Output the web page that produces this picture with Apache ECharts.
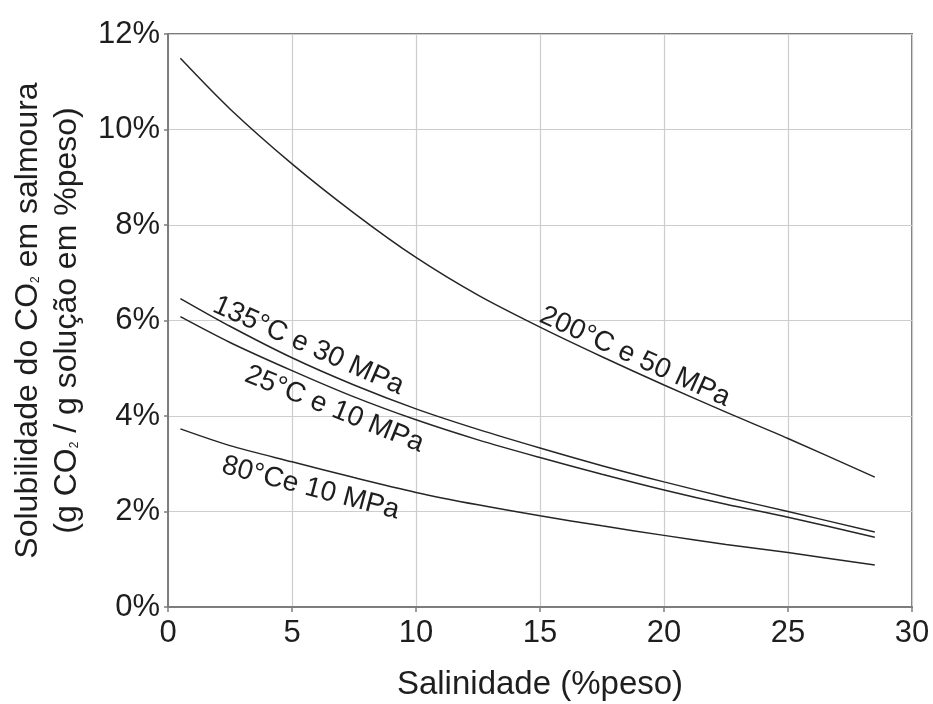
<!DOCTYPE html>
<html>
<head>
<meta charset="utf-8">
<title>Solubilidade do CO2 em salmoura</title>
<script src="https://cdn.jsdelivr.net/npm/echarts@6/dist/echarts.min.js"></script>
<style>
  html, body { margin: 0; padding: 0; background: #ffffff; }
  #chart { width: 933px; height: 704px; }
</style>
</head>
<body>
<div id="chart"></div>
<script>
// Salinity (% by weight) at which each curve is sampled
const salinity = [0.5, 2.5, 5, 7.5, 10, 12.5, 15, 17.5, 20, 22.5, 25, 28.5];

// CO2 solubility in brine (g CO2 / g solution, in % by weight)
const sol200C50MPa = [11.49, 10.43, 9.28, 8.25, 7.32, 6.53, 5.86, 5.24, 4.65, 4.08, 3.53, 2.72];
const sol135C30MPa = [6.46, 5.88, 5.22, 4.65, 4.15, 3.72, 3.33, 2.96, 2.62, 2.30, 2.00, 1.57];
const sol25C10MPa  = [6.08, 5.54, 4.95, 4.40, 3.92, 3.50, 3.13, 2.78, 2.45, 2.15, 1.88, 1.46];
const sol80C10MPa  = [3.73, 3.38, 3.04, 2.71, 2.40, 2.14, 1.91, 1.70, 1.50, 1.31, 1.14, 0.88];

// Curve captions
const curveNames = ['200°C e 50 MPa', '135°C e 30 MPa', '25°C e 10 MPa', '80°Ce 10 MPa'];

// Axis ticks
const xTicks = [0, 5, 10, 15, 20, 25, 30];
const yTicks = [0, 2, 4, 6, 8, 10, 12];

const FONT = '"Liberation Sans", Arial, Helvetica, sans-serif';
const INK = '#1e1e1e';
const FRAME = '#7d7d7d';
const GRIDC = '#cdcdcd';

// Caption placement along each curve: data coordinate of the caption centre and its tilt
const captionPlacement = [
  { coord: [18.83, 5.24], rotate: -24.4 },
  { coord: [5.66, 5.47], rotate: -24 },
  { coord: [6.71, 4.14], rotate: -22 },
  { coord: [5.75, 2.49], rotate: -14.7 }
];

function pairs(ys) {
  return salinity.map((x, i) => [x, ys[i]]);
}

function curve(name, ys, placement) {
  return {
    name: name,
    type: 'line',
    data: pairs(ys),
    smooth: 0.3,
    showSymbol: false,
    symbol: 'none',
    silent: true,
    lineStyle: { color: '#262626', width: 1.5 },
    markPoint: {
      symbol: 'circle',
      symbolSize: 0,
      silent: true,
      data: [{ coord: placement.coord, value: name }],
      label: {
        show: true,
        position: 'inside',
        formatter: name,
        rotate: placement.rotate,
        fontFamily: FONT,
        fontSize: 28,
        color: INK
      }
    }
  };
}

const chart = echarts.init(document.getElementById('chart'), null, { renderer: 'canvas' });

const option = {
  animation: false,
  backgroundColor: '#ffffff',
  grid: {
    left: 168, right: 21, top: 34, bottom: 97,
    containLabel: false,
    outerBoundsMode: 'none',
    show: true,
    borderColor: FRAME,
    borderWidth: 2,
    backgroundColor: 'transparent'
  },
  xAxis: {
    type: 'value',
    min: xTicks[0],
    max: xTicks[xTicks.length - 1],
    interval: xTicks[1] - xTicks[0],
    name: 'Salinidade (%peso)',
    nameLocation: 'middle',
    nameGap: 61,
    nameTextStyle: { fontFamily: FONT, fontSize: 33, color: INK },
    axisLine: { show: true, lineStyle: { color: FRAME, width: 2 } },
    axisTick: { show: true, length: 5, lineStyle: { color: FRAME, width: 1.5 } },
    axisLabel: { margin: 11, fontFamily: FONT, fontSize: 31, color: INK },
    splitLine: { show: true, lineStyle: { color: GRIDC, width: 1.2 } }
  },
  yAxis: {
    type: 'value',
    min: yTicks[0],
    max: yTicks[yTicks.length - 1],
    interval: yTicks[1] - yTicks[0],
    name: '{a|Solubilidade do CO}{s|2}{a| em salmoura}\n{a|(g CO}{s|2}{a| / g solução em %peso)}',
    nameLocation: 'middle',
    nameGap: 77,
    nameRotate: 90,
    nameTextStyle: {
      fontFamily: FONT,
      color: INK,
      rich: {
        a: { fontFamily: FONT, fontSize: 32, lineHeight: 39, color: INK },
        s: { fontFamily: FONT, fontSize: 12, lineHeight: 39, color: INK, verticalAlign: 'bottom', padding: [0, 0, 6, 0] }
      }
    },
    axisLine: { show: true, lineStyle: { color: FRAME, width: 2 } },
    axisTick: { show: true, length: 4, lineStyle: { color: FRAME, width: 1.5 } },
    axisLabel: {
      margin: 8,
      fontFamily: FONT,
      fontSize: 31,
      color: INK,
      formatter: '{value}%'
    },
    splitLine: { show: true, lineStyle: { color: GRIDC, width: 1.2 } }
  },
  series: [
    curve(curveNames[0], sol200C50MPa, captionPlacement[0]),
    curve(curveNames[1], sol135C30MPa, captionPlacement[1]),
    curve(curveNames[2], sol25C10MPa, captionPlacement[2]),
    curve(curveNames[3], sol80C10MPa, captionPlacement[3])
  ]
};

chart.setOption(option);
</script>
</body>
</html>
